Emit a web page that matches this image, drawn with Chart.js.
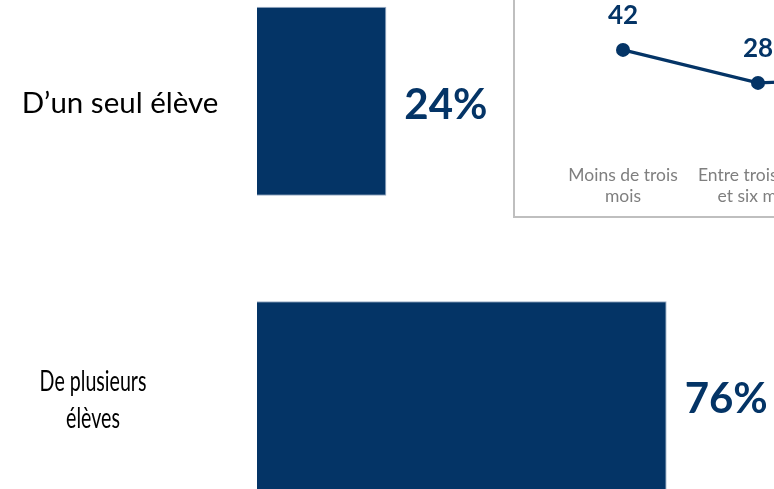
<!DOCTYPE html>
<html><head><meta charset="utf-8">
<script src="https://cdn.jsdelivr.net/npm/chart.js@4"></script>
<style>
html,body{margin:0;padding:0;width:774px;height:489px;overflow:hidden;background:#fff;position:relative}
#main{position:absolute;left:0;top:-46px;width:800px;height:589px}
#inset{position:absolute;left:513px;top:-60px;width:460px;height:274px;border:2px solid #bfbfbf;background:#fff}
</style></head><body>
<div id="main"><canvas id="c1"></canvas></div>
<div id="inset"><canvas id="c2"></canvas></div>
<script>
// ---- data ----
const barCategories = [["D’un seul élève"], ["De plusieurs", "élèves"]];
const barValues = [24, 76];
const barValueLabels = ["24%", "76%"];
const lineCategories = [["Moins de trois", "mois"], ["Entre trois mois", "et six mois"], ["Plus de six", "mois"]];
const lineValues = [42, 28, 30];

// ---- styles ----
const NAVY = '#043466';
const FONT = 'Lato, "Open Sans", sans-serif';
const labelCenters = [120, 93];
const labelScaleX = [1, 0.665];

const barLabelsPlugin = {
  id: 'barLabels',
  afterDatasetsDraw(chart) {
    const ctx = chart.ctx;
    const meta = chart.getDatasetMeta(0);
    ctx.save();
    ctx.fillStyle = NAVY;
    ctx.font = 'bold 42px ' + FONT;
    ctx.textAlign = 'left';
    ctx.textBaseline = 'middle';
    meta.data.forEach((el, i) => {
      ctx.fillText(barValueLabels[i], el.x + 18, el.y + 4);
    });
    // category labels
    const ys = chart.scales.y;
    ctx.fillStyle = '#000';
    ctx.font = '29.5px ' + FONT;
    ctx.textAlign = 'center';
    barCategories.forEach((lines, i) => {
      const y = ys.getPixelForValue(i);
      const lh = 37;
      const y0 = y - (lines.length - 1) * lh / 2;
      lines.forEach((t, j) => {
        ctx.save();
        ctx.translate(labelCenters[i], y0 + j * lh + (lines.length > 1 ? 4 : 2));
        ctx.scale(labelScaleX[i], 1);
        ctx.fillText(t, 0, 0);
        ctx.restore();
      });
    });
    ctx.restore();
  }
};

new Chart(document.getElementById('c1'), {
  type: 'bar',
  data: {
    labels: barCategories,
    datasets: [{
      data: barValues,
      backgroundColor: NAVY,
      borderColor: 'rgba(90,120,160,0.6)',
      borderWidth: 1,
      barPercentage: 0.642,
      categoryPercentage: 1
    }]
  },
  options: {
    indexAxis: 'y',
    responsive: true,
    maintainAspectRatio: false,
    animation: false,
    layout: { padding: { left: 257, right: 4, top: 0, bottom: 0 } },
    plugins: { legend: { display: false }, tooltip: { enabled: false } },
    scales: {
      x: { min: 0, max: 100, display: false },
      y: { display: false }
    }
  },
  plugins: [barLabelsPlugin]
});

const lineLabelsPlugin = {
  id: 'lineLabels',
  afterDatasetsDraw(chart) {
    const ctx = chart.ctx;
    const meta = chart.getDatasetMeta(0);
    ctx.save();
    ctx.fillStyle = NAVY;
    ctx.font = 'bold 26px ' + FONT;
    ctx.textAlign = 'center';
    ctx.textBaseline = 'middle';
    meta.data.forEach((el, i) => {
      ctx.fillText(String(lineValues[i]), el.x, el.y - 34);
    });
    ctx.restore();
  }
};

new Chart(document.getElementById('c2'), {
  type: 'line',
  data: {
    labels: lineCategories,
    datasets: [{
      data: lineValues,
      borderColor: NAVY,
      backgroundColor: NAVY,
      borderWidth: 3.2,
      pointRadius: 7,
      pointBackgroundColor: NAVY,
      pointBorderWidth: 0,
      tension: 0,
      clip: false
    }]
  },
  options: {
    responsive: true,
    maintainAspectRatio: false,
    animation: false,
    layout: { padding: { left: 40.5, right: 14.5, top: 89, bottom: 0 } },
    plugins: { legend: { display: false }, tooltip: { enabled: false } },
    scales: {
      x: {
        offset: true,
        grid: { display: false, drawTicks: false },
        border: { display: false },
        ticks: {
          color: '#7f7f7f',
          font: { family: FONT, size: 17.5, lineHeight: 1.25 },
          padding: 15,
          maxRotation: 0,
          autoSkip: false
        },
        afterFit(s) { s.height = 67; }
      },
      y: { display: false, min: 0, max: 50 }
    }
  },
  plugins: [lineLabelsPlugin]
});
</script>
</body></html>
